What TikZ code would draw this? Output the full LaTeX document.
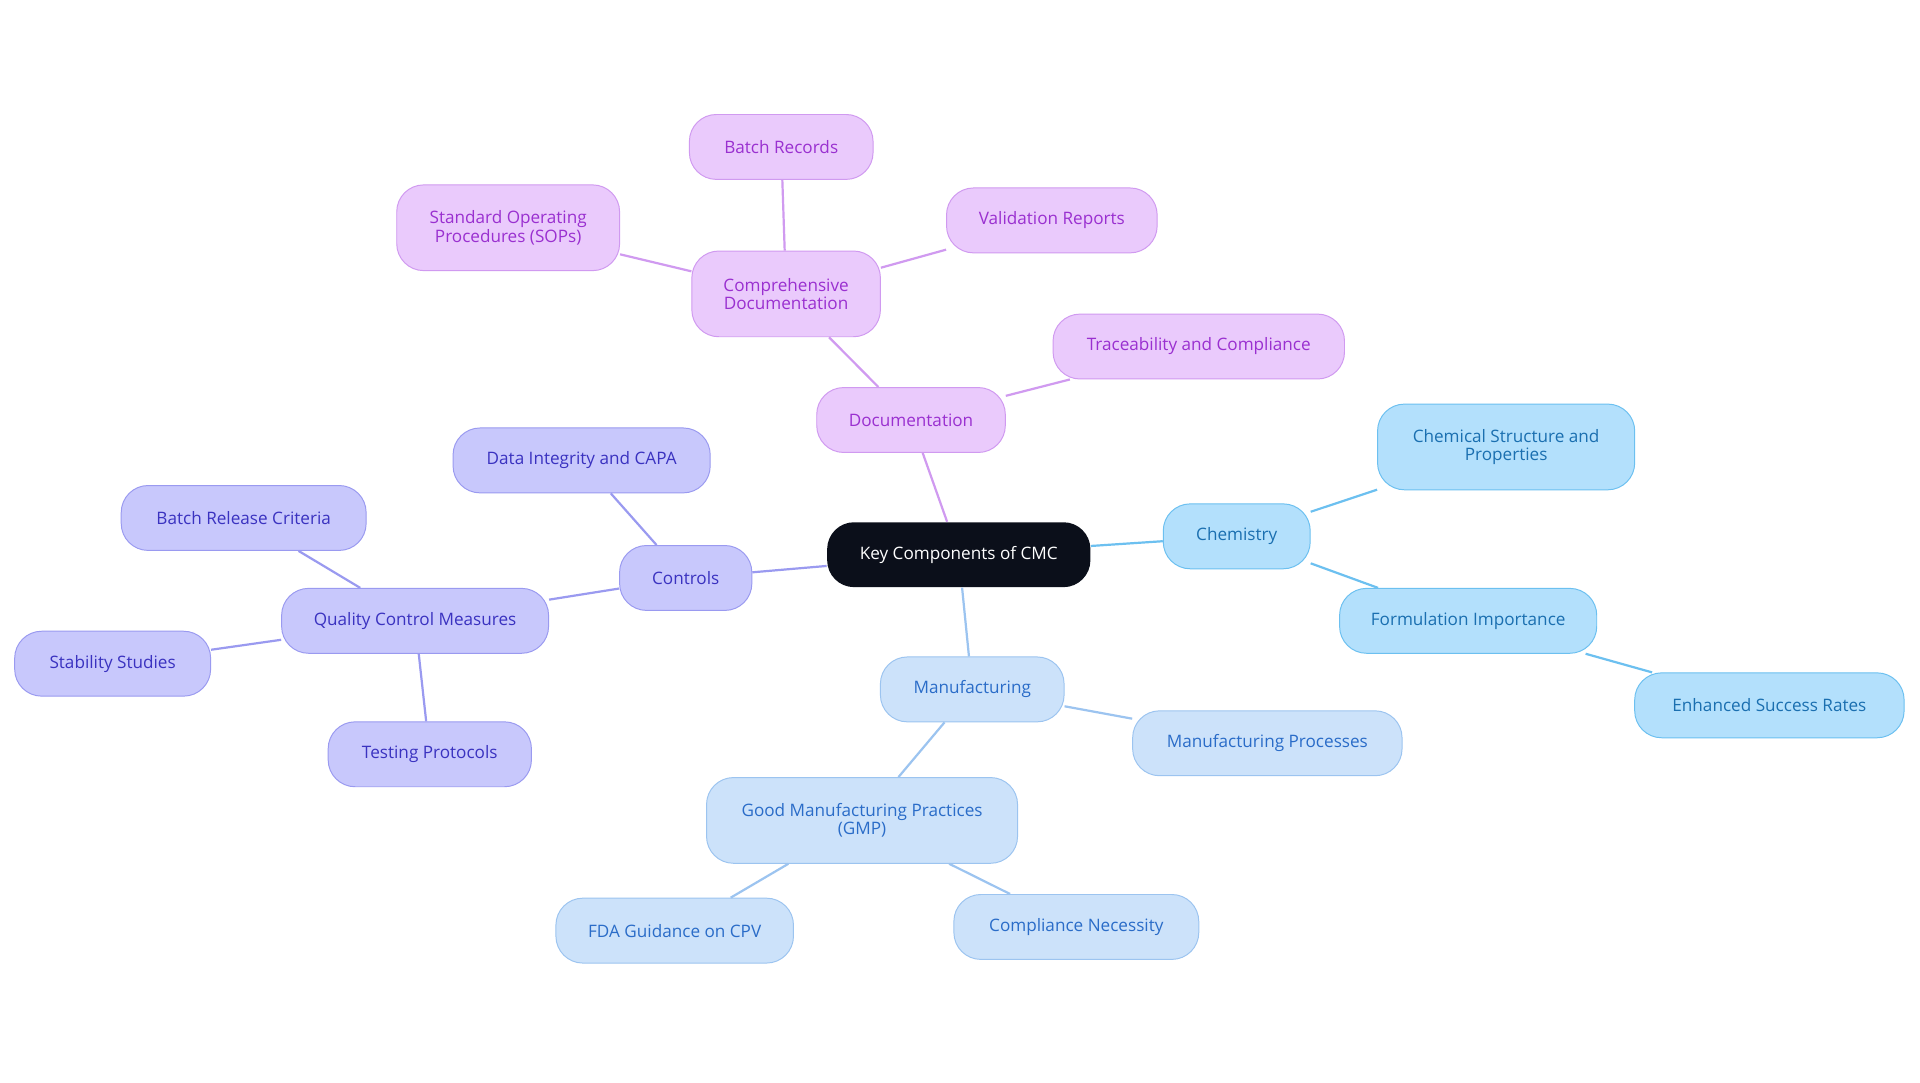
\documentclass[tikz,border=0pt]{standalone}
\usepackage{fontspec}
\setmainfont{Open Sans}
\definecolor{cF}{HTML}{B3E0FC}
\definecolor{cD}{HTML}{6CC0F0}
\definecolor{cT}{HTML}{1A6FB0}
\definecolor{mF}{HTML}{CCE2FA}
\definecolor{mD}{HTML}{9CC4F0}
\definecolor{mT}{HTML}{2A6CC8}
\definecolor{kF}{HTML}{C8C8FC}
\definecolor{kD}{HTML}{9A9AF0}
\definecolor{kT}{HTML}{3A32C0}
\definecolor{dF}{HTML}{EACAFC}
\definecolor{dD}{HTML}{D09AF0}
\definecolor{dT}{HTML}{9A30D0}
\definecolor{rootF}{HTML}{0B0F1A}
\tikzset{
 base/.style={rounded corners=22pt,line width=0.8pt,align=center,inner sep=0pt,font=\fontsize{14}{15}\selectfont,minimum height=53pt},
 chem/.style={base,fill=cF,draw=cD,text=cT},
 manu/.style={base,fill=mF,draw=mD,text=mT},
 ctrl/.style={base,fill=kF,draw=kD,text=kT},
 docu/.style={base,fill=dF,draw=dD,text=dT},
 tall/.style={minimum height=70pt},
 ec/.style={draw=cD,line width=1.8pt},
 em/.style={draw=mD,line width=1.8pt},
 ek/.style={draw=kD,line width=1.8pt},
 ed/.style={draw=dD,line width=1.8pt},
}
\begin{document}
\begin{tikzpicture}[x=1pt,y=-1pt]
\fill[white] (0,0) rectangle (1568,884);
\useasboundingbox (0,0) rectangle (1568,884);
\node[base,fill=rootF,text=white,minimum width=215pt] (root) at (783,453) {Key Components of CMC};
\node[chem,minimum width=120pt] (chem) at (1010,438) {Chemistry};
\node[chem,tall,minimum width=210pt] (csp) at (1230,365) {Chemical Structure and\\Properties};
\node[chem,minimum width=210pt] (fi) at (1199,507) {Formulation Importance};
\node[chem,minimum width=220pt] (esr) at (1445,576) {Enhanced Success Rates};
\node[manu,minimum width=150pt] (man) at (794,563) {Manufacturing};
\node[manu,minimum width=220pt] (mp) at (1035,607) {Manufacturing Processes};
\node[manu,tall,minimum width=254pt] (gmp) at (704,670) {Good Manufacturing Practices\\(GMP)};
\node[manu,minimum width=194pt] (fda) at (551,760) {FDA Guidance on CPV};
\node[manu,minimum width=200pt] (cn) at (879,757) {Compliance Necessity};
\node[ctrl,minimum width=108pt] (ctl) at (560,472) {Controls};
\node[ctrl,minimum width=210pt] (dic) at (475,376) {Data Integrity and CAPA};
\node[ctrl,minimum width=218pt] (qcm) at (339,507) {Quality Control Measures};
\node[ctrl,minimum width=200pt] (brc) at (199,423) {Batch Release Criteria};
\node[ctrl,minimum width=160pt] (ss) at (92,542) {Stability Studies};
\node[ctrl,minimum width=166pt] (tp) at (351,616) {Testing Protocols};
\node[docu,minimum width=154pt] (doc) at (744,343) {Documentation};
\node[docu,tall,minimum width=154pt] (cd) at (642,240) {Comprehensive\\Documentation};
\node[docu,minimum width=150pt] (br) at (638,120) {Batch Records};
\node[docu,tall,minimum width=182pt] (sop) at (415,186) {Standard Operating\\Procedures (SOPs)};
\node[docu,minimum width=172pt] (vr) at (859,180) {Validation Reports};
\node[docu,minimum width=238pt] (tc) at (979,283) {Traceability and Compliance};
\draw[ec] (root)--(chem); \draw[ec] (chem)--(csp); \draw[ec] (chem)--(fi); \draw[ec] (fi)--(esr);
\draw[em] (root)--(man); \draw[em] (man)--(mp); \draw[em] (man)--(gmp); \draw[em] (gmp)--(fda); \draw[em] (gmp)--(cn);
\draw[ek] (root)--(ctl); \draw[ek] (ctl)--(dic); \draw[ek] (ctl)--(qcm); \draw[ek] (qcm)--(brc); \draw[ek] (qcm)--(ss); \draw[ek] (qcm)--(tp);
\draw[ed] (root)--(doc); \draw[ed] (doc)--(cd); \draw[ed] (doc)--(tc); \draw[ed] (cd)--(br); \draw[ed] (cd)--(sop); \draw[ed] (cd)--(vr);
\end{tikzpicture}
\end{document}
